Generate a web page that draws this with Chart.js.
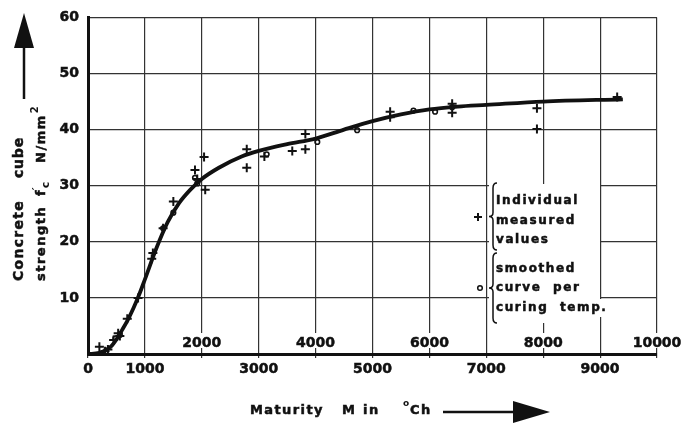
<!DOCTYPE html>
<html>
<head>
<meta charset="utf-8">
<script src="https://cdn.jsdelivr.net/npm/chart.js@4.4.1/dist/chart.umd.min.js"></script>
<style>
  html, body { margin: 0; padding: 0; background: #fff; }
</style>
</head>
<body>
<canvas id="chart" width="687" height="424"></canvas>
<script>
// smoothed curve (maturity in °Ch, strength in N/mm²)
const curveM = [0, 200, 400, 500, 600, 700, 800, 900, 1000, 1200, 1400, 1600, 1800, 2000, 2300, 2700, 3000, 3500, 4000, 4500, 5000, 5500, 6000, 6500, 7000, 8000, 9400];
const curveF = [0, 0.2, 1.3, 2.6, 4.3, 6.1, 8.2, 10.6, 13.3, 18.8, 23.5, 26.9, 29.3, 31.2, 33.2, 35.2, 36.2, 37.4, 38.4, 40.0, 41.5, 42.7, 43.6, 44.1, 44.4, 45.0, 45.4];

// individual measured values (+)
const crossM = [200, 300, 350, 450, 530, 560, 690, 880, 1120, 1140, 1320, 1500, 1880, 1920, 2040, 2060, 2790, 2790, 3100, 3590, 3820, 3820, 5310, 5310, 6400, 6400, 7890, 7890, 9300];
const crossF = [1.3, 0.5, 0.8, 2.5, 3.7, 3.2, 6.3, 10.0, 17.0, 18.0, 22.4, 27.2, 32.8, 31.2, 35.1, 29.3, 36.5, 33.2, 35.2, 36.2, 36.5, 39.2, 43.2, 42.2, 44.6, 43.0, 43.8, 40.1, 45.8];

// smoothed curve points per curing temperature (o)
const circM = [480, 560, 1320, 1500, 1880, 1920, 3140, 4030, 4730, 5720, 6100, 6400];
const circF = [2.8, 3.4, 22.4, 25.2, 31.4, 30.4, 35.6, 37.8, 39.9, 43.4, 43.2, 44.0];

// tick labels: odd thousands below the axis, even ones above it
const xLabelsBelow = [0, 1000, 3000, 5000, 7000, 9000];
const xLabelsAbove = [2000, 4000, 6000, 8000, 10000];

const FONT = '"DejaVu Sans", "Liberation Sans", sans-serif';
const INK = '#111';

function pts(xs, ys) {
  return xs.map((x, i) => ({ x, y: ys[i] }));
}

// text with letter spacing and a hairline stroke to make it heavier
function spaced(ctx, text, x, y, spacing) {
  ctx.letterSpacing = spacing + 'px';
  ctx.fillText(text, x, y);
  ctx.lineWidth = 0.5;
  ctx.strokeText(text, x, y);
  const w = ctx.measureText(text).width;
  ctx.letterSpacing = '0px';
  return x + w;
}

function brace(ctx, x, y1, y2) {
  const ym = (y1 + y2) / 2;
  ctx.beginPath();
  ctx.moveTo(x + 4, y1);
  ctx.quadraticCurveTo(x, y1, x, y1 + 5);
  ctx.lineTo(x, ym - 4);
  ctx.quadraticCurveTo(x, ym, x - 4, ym);
  ctx.quadraticCurveTo(x, ym, x, ym + 4);
  ctx.lineTo(x, y2 - 5);
  ctx.quadraticCurveTo(x, y2, x + 4, y2);
  ctx.stroke();
}

const decor = {
  id: 'decor',
  afterDraw(chart) {
    const ctx = chart.ctx;
    const xs = chart.scales.x;
    ctx.save();
    ctx.fillStyle = INK;
    ctx.strokeStyle = INK;

    // even labels sit inside the plot just above the axis
    ctx.font = 'bold 14px ' + FONT;
    ctx.textAlign = 'center';
    ctx.textBaseline = 'alphabetic';
    xLabelsAbove.forEach(v => {
      const px = xs.getPixelForValue(v);
      const w = ctx.measureText(String(v)).width;
      ctx.fillStyle = '#fff';
      ctx.fillRect(px - w / 2 - 2, 333, w + 4, 15);
      ctx.fillStyle = INK;
      spaced(ctx, String(v), px, 347, 0);
    });

    // legend block
    ctx.fillStyle = '#fff';
    ctx.fillRect(489, 184, 111, 139);
    ctx.fillRect(598, 299, 17, 18);
    ctx.fillStyle = INK;
    ctx.lineWidth = 1.5;
    brace(ctx, 493, 183, 250);
    brace(ctx, 493, 253, 323);
    // + marker
    ctx.lineWidth = 2;
    ctx.beginPath();
    ctx.moveTo(474, 217); ctx.lineTo(482, 217);
    ctx.moveTo(478, 213); ctx.lineTo(478, 221);
    ctx.stroke();
    // o marker
    ctx.lineWidth = 1.5;
    ctx.beginPath();
    ctx.arc(480, 288, 2.3, 0, Math.PI * 2);
    ctx.stroke();

    ctx.textAlign = 'left';
    ctx.font = 'bold 12px ' + FONT;
    const lines = [['Individual', 204], ['measured', 224], ['values', 243],
                   ['smoothed', 272], ['curve  per', 291], ['curing  temp.', 311]];
    lines.forEach(([t, y]) => spaced(ctx, t, 496, y, 1.6));

    // y axis title, rotated
    ctx.save();
    ctx.translate(23, 281);
    ctx.rotate(-Math.PI / 2);
    ctx.font = 'bold 14px ' + FONT;
    spaced(ctx, 'Concrete', 0, 0, 1.3);
    spaced(ctx, 'cube', 103, 0, 0.8);
    ctx.restore();

    ctx.save();
    ctx.translate(45, 281);
    ctx.rotate(-Math.PI / 2);
    ctx.font = 'bold 13px ' + FONT;
    spaced(ctx, 'strength', 0, 0, 1.5);
    let e = spaced(ctx, 'f', 85, 0, 0);
    ctx.font = 'bold 11px ' + FONT;
    ctx.fillText('\u2032', e, -5);
    ctx.fillText('c', e + 2, 4);
    ctx.font = 'bold 13px ' + FONT;
    e = spaced(ctx, 'N/mm', 118, 0, 1.5);
    ctx.font = 'bold 10px ' + FONT;
    ctx.fillText('2', e + 1, -7);
    ctx.restore();

    // up arrow
    ctx.lineWidth = 2.5;
    ctx.beginPath();
    ctx.moveTo(24, 99); ctx.lineTo(24, 44);
    ctx.stroke();
    ctx.beginPath();
    ctx.moveTo(24, 13); ctx.lineTo(34, 48); ctx.lineTo(14, 48);
    ctx.closePath();
    ctx.fill();

    // x axis title
    ctx.font = 'bold 13px ' + FONT;
    ctx.textBaseline = 'middle';
    spaced(ctx, 'Maturity', 250, 411, 1.4);
    spaced(ctx, 'M', 342, 411, 0);
    spaced(ctx, 'in', 363, 411, 1.5);
    ctx.font = 'bold 9px ' + FONT;
    ctx.fillText('o', 403, 404);
    ctx.font = 'bold 13px ' + FONT;
    spaced(ctx, 'Ch', 410, 411, 1.5);
    ctx.lineWidth = 2.5;
    ctx.beginPath();
    ctx.moveTo(443, 412); ctx.lineTo(516, 412);
    ctx.stroke();
    ctx.beginPath();
    ctx.moveTo(513, 401); ctx.lineTo(550, 412); ctx.lineTo(513, 423);
    ctx.closePath();
    ctx.fill();

    ctx.restore();
  }
};

Chart.defaults.font.family = FONT;
Chart.defaults.font.weight = 'bold';
Chart.defaults.font.size = 14;
Chart.defaults.color = INK;

new Chart(document.getElementById('chart').getContext('2d'), {
  type: 'scatter',
  data: {
    datasets: [
      {
        label: 'smoothed curve',
        type: 'line',
        data: pts(curveM, curveF),
        borderColor: INK,
        borderWidth: 3.8,
        pointRadius: 0,
        cubicInterpolationMode: 'monotone',
        fill: false,
        order: 2
      },
      {
        label: 'Individual measured values',
        data: pts(crossM, crossF),
        pointStyle: 'cross',
        pointRadius: 4.5,
        borderWidth: 2,
        borderColor: INK,
        order: 1
      },
      {
        label: 'smoothed curve per curing temp.',
        data: pts(circM, circF),
        pointStyle: 'circle',
        pointRadius: 2.3,
        borderWidth: 1.6,
        borderColor: INK,
        backgroundColor: 'rgba(0,0,0,0)',
        order: 0
      }
    ]
  },
  options: {
    responsive: false,
    animation: false,
    devicePixelRatio: 1,
    layout: { padding: { left: 0, right: 30, top: 14, bottom: 0 } },
    scales: {
      x: {
        type: 'linear',
        min: 0,
        max: 10000,
        ticks: {
          stepSize: 1000,
          autoSkip: false,
          maxRotation: 0,
          padding: 3,
          textStrokeColor: INK,
          textStrokeWidth: 0.5,
          callback: v => xLabelsBelow.includes(v) ? String(v) : ''
        },
        grid: { color: '#333', lineWidth: 1.2, tickLength: 4 },
        border: { width: 3, color: INK },
        afterFit: s => { s.height = 70; }
      },
      y: {
        min: 0,
        max: 60,
        ticks: {
          stepSize: 10,
          padding: 9,
          textStrokeColor: INK,
          textStrokeWidth: 0.5,
          callback: v => v === 0 ? '' : String(v)
        },
        grid: { color: '#333', lineWidth: 1.2, drawTicks: false },
        border: { width: 3, color: INK },
        afterFit: s => { s.width = 88; }
      }
    },
    plugins: {
      legend: { display: false },
      tooltip: { enabled: false }
    }
  },
  plugins: [decor]
});
</script>
</body>
</html>
